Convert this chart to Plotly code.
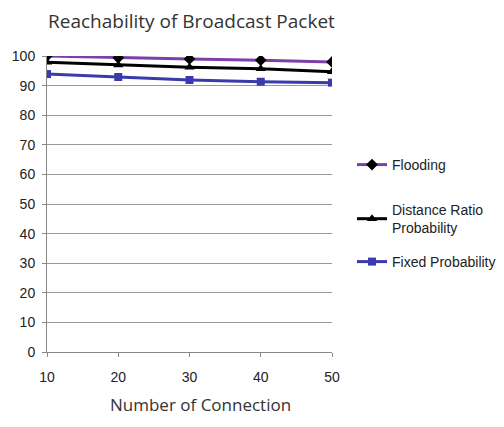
import plotly.graph_objects as go

connections = [10, 20, 30, 40, 50]
flooding = [100, 99.4, 99.0, 98.6, 98.0]
distance_ratio = [97.9, 97.0, 96.2, 95.7, 94.7]
fixed_prob = [93.9, 92.9, 91.9, 91.3, 91.0]
y_ticks = list(range(0, 101, 10))

# page body has an 8px margin; figure sized to fit the window
OFF = 8
L, R, T, B = 47, 332, 56, 352  # plot area in screen pixels
W, H = 504 - OFF * 2, 427 - OFF * 2


def px(x):
    return (x - L) / (R - L)


def py(y):
    return (B - y) / (B - T)


fig = go.Figure()
fig.add_trace(go.Scatter(x=connections, y=flooding, name="Flooding", mode="lines+markers",
                         line=dict(color="#7D3FA8", width=3),
                         marker=dict(symbol="diamond", size=9, color="black"), legend="legend"))
fig.add_trace(go.Scatter(x=connections, y=distance_ratio, name="Distance Ratio<br>Probability",
                         mode="lines+markers", line=dict(color="black", width=3),
                         marker=dict(symbol="triangle-up", size=9, color="black"), legend="legend2"))
fig.add_trace(go.Scatter(x=connections, y=fixed_prob, name="Fixed Probability", mode="lines+markers",
                         line=dict(color="#3A3AAE", width=3),
                         marker=dict(symbol="square", size=8, color="#3A3AAE"), legend="legend3"))

legend_common = dict(font=dict(family="Liberation Sans, Arial", size=14, color="#222"),
                     itemwidth=30, bgcolor="rgba(0,0,0,0)", xanchor="left", yanchor="middle",
                     tracegroupgap=0)
fig.update_layout(
    width=W, height=H,
    margin=dict(l=L - OFF, r=W - (R - OFF), t=T - OFF, b=H - (B - OFF), autoexpand=False),
    paper_bgcolor="white", plot_bgcolor="white",
    legend=dict(x=px(352), y=py(165), **legend_common),
    legend2=dict(x=px(352), y=py(219), **legend_common),
    legend3=dict(x=px(352), y=py(262), **legend_common),
    xaxis=dict(range=[10, 50], tickvals=connections, showgrid=False, showline=True,
               linecolor="#888", linewidth=1, ticks="outside", ticklen=4, tickcolor="#888",
               ticklabelstandoff=8,
               tickfont=dict(family="Liberation Sans, Arial", size=14, color="#222"), zeroline=False),
    yaxis=dict(range=[0, 100], tickvals=y_ticks, showgrid=True, gridcolor="#999", gridwidth=1,
               showline=True, linecolor="#888", linewidth=1, ticks="outside", ticklen=4,
               tickcolor="#888", ticklabelstandoff=4,
               tickfont=dict(family="Liberation Sans, Arial", size=14, color="#222"),
               zeroline=False),
    annotations=[
        dict(text="Reachability of Broadcast Packet", xref="paper", yref="paper",
             x=px(191), y=py(21), showarrow=False, xanchor="center", yanchor="middle",
             font=dict(family="Open Sans", size=19, color="#333")),
        dict(text="Number of Connection", xref="paper", yref="paper",
             x=px(200), y=py(426 - OFF), showarrow=False, xanchor="center", yanchor="bottom",
             font=dict(family="Open Sans", size=17, color="#333")),
    ],
    showlegend=True,
)
fig.write_html("out.html")
